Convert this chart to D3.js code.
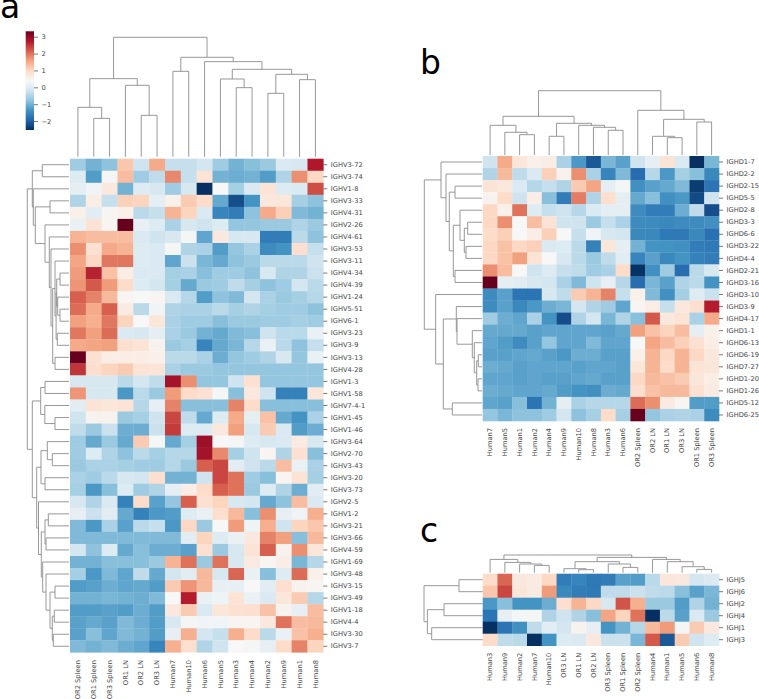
<!DOCTYPE html>
<html><head><meta charset="utf-8">
<script src="https://cdn.jsdelivr.net/npm/d3@7"></script>
<style>
html,body{margin:0;padding:0;background:#fff}
svg{display:block}
text{font-family:"DejaVu Sans",sans-serif}
</style></head><body>
<svg id="chart" width="759" height="699"></svg>
<script>
// ---------- colour scale ----------
const rdbuStops = ["#053061","#2166ac","#4393c3","#92c5de","#d1e5f0","#f7f7f7","#fddbc7","#f4a582","#d6604d","#b2182b","#67001f"];
const vMin = -2.53, vMax = 3.32;
const colorbarTicks = [-2,-1,0,1,2,3];

// ---------- panel a ----------
const colsA = ["OR2 Spleen","OR1 Spleen","OR3 Spleen","OR1 LN","OR2 LN","OR3 LN","Human7","Human10","Human6","Human5","Human3","Human4","Human2","Human9","Human1","Human8"];
const rowsA = ["IGHV3-72","IGHV3-74","IGHV1-8","IGHV3-33","IGHV4-31","IGHV2-26","IGHV4-61","IGHV3-53","IGHV3-11","IGHV4-34","IGHV4-39","IGHV1-24","IGHV5-51","IGHV6-1","IGHV3-23","IGHV3-9","IGHV3-13","IGHV4-28","IGHV1-3","IGHV1-58","IGHV7-4-1","IGHV1-45","IGHV1-46","IGHV3-64","IGHV2-70","IGHV3-43","IGHV3-20","IGHV3-73","IGHV2-5","IGHV1-2","IGHV3-21","IGHV3-66","IGHV4-59","IGHV1-69","IGHV3-48","IGHV3-15","IGHV3-49","IGHV1-18","IGHV4-4","IGHV3-30","IGHV3-7"];
const valuesA = [
[-.65,-1,-.8,1.2,-.2,1.5,-.3,-.3,-.15,-.65,-1,-.85,-.7,-.05,-.1,2.75],
[0,-1.25,.35,1.3,-.65,-.35,1.8,-.3,.8,-1,-1.05,-1,-1.25,-.5,1.75,1],
[.1,.3,.7,-1,0,-.1,-.65,-.1,-2.53,.4,-.6,-.05,.8,0,-.05,2.3],
[-.5,.6,-.3,1.1,1.05,.1,.55,1.15,.95,-1.1,-2.2,-1.35,.7,.75,-.6,-.8],
[.55,.05,.45,.55,-.4,-.3,1.4,1.05,-.05,-1.55,-1.65,-.8,1.5,1.1,-.9,-1],
[.2,.8,.45,3.32,.15,0,-.55,-.1,-.2,0,-.75,-.75,-.7,-.7,-.5,-.7],
[1.4,1.3,1.3,1.3,-.05,-.2,-.1,.35,-1.15,.7,-.1,-.1,-1.65,-1.65,-.4,-.8],
[1.75,.85,1.5,1.4,0,-.05,.35,-.5,-.55,-1.25,-.75,-.55,-1.45,-1.35,.9,-.3],
[1.55,1,1.95,1.95,0,-.05,-1.15,-.25,-.95,-1.1,-.8,-.7,-.4,-.4,-.4,-.2],
[1.65,2.65,1.25,.6,-.05,-.05,-.6,-.55,-.85,-.65,-.65,-.8,-.1,-.5,-.5,-.25],
[1.7,2.2,1.65,.95,0,-.15,-.6,-1.1,-.7,-.65,-.35,-.6,-.8,-.65,-.15,-.4],
[2.15,1.85,1.35,.45,.4,.45,-.05,-.45,-1.25,-.8,-.9,-.15,-.55,-.7,-.6,-.45],
[2.05,1.5,2.15,.65,-.4,.3,-.5,-.55,-.55,-.4,-.6,-.5,-.6,-.65,-.65,-.8],
[1.6,1.45,1.95,1.05,.4,.75,-.55,-.65,-.65,-.85,-.7,-.7,-.65,-.65,-.6,-.65],
[1.95,1.6,2.05,-.05,-.1,.1,-.55,-.7,-1,-1.1,-.9,-.85,-.2,-.4,-.4,.2],
[1.5,1.55,1.6,.9,.8,.5,-.7,-.6,-1.55,-1.1,-.95,-.45,.2,-.4,-.8,-.3],
[3.32,.85,.6,.6,.6,.55,-.4,-.4,-.55,-1.05,-.75,-.65,-.5,-.1,-.75,.2],
[2.5,.9,1.05,1.15,.8,.8,-.55,-.7,-.7,-.75,-.75,-.75,-.75,-.75,-.75,-.75],
[-.1,-.1,-.1,-.4,-.15,-.35,2.85,1.75,-.75,-.75,-.2,.85,-.75,-.75,-.75,-.75],
[1.7,-.1,-.1,-1.3,-.4,-.7,1.65,.95,.85,.35,-.85,.7,-.2,-1.6,-1.6,.75],
[.05,.8,.75,.8,-.45,.15,1.85,-.85,-.85,-.85,1.85,.95,-.85,-.85,-.85,-.85],
[-.2,.5,.5,-.7,-.6,-.2,2.35,-.35,-1.1,0,1.5,.1,1.25,-1.1,-1.35,-.55],
[-.35,-.7,-.25,-1.05,-1.05,-.25,2.45,0,0,.7,1.6,-.1,1.15,-.05,-1.25,-1.05],
[-.65,-1.1,-.7,-1.1,1.15,.35,-1.1,-.6,2.9,.4,.35,0,-.1,-.05,.65,-.1],
[-.65,0,-.5,-.8,-.4,-.6,-.45,-.45,2.85,1.8,-.6,-.2,.45,-.5,.85,-.85],
[-.7,-.55,-.55,-.6,-.65,-.65,-.45,-.7,2.15,2.35,.05,-.2,-.4,1.3,.2,-.55],
[-.55,-.65,-.4,-.1,-.15,.9,-1,-1,-.2,2.35,2,-.65,-.85,.45,.8,-.6],
[-.6,-1.3,-.85,0,-.65,-.5,.1,.6,.95,2.15,2,-.7,0,-.5,-1.05,.05],
[-.1,-.5,-.05,-1.6,.95,-1.2,-.75,2.15,.85,1.05,-.1,-.15,-1.1,-.8,1.3,-.05],
[.15,-.25,.05,-1.1,-1.6,-1.3,-1.25,0,.2,.9,1.35,-.85,1.75,.15,.25,1.45],
[-.9,-1.3,-.55,-1.2,-.4,-.3,-1.3,1,-.7,.4,1.65,.25,1.45,-.2,1.05,1.2],
[-.9,-.9,-.9,-.9,-.9,-.9,-.9,.05,1.05,0,.2,.7,1.85,1.6,-.85,1.35],
[-.15,-.8,0,-1.1,-.85,-1.05,-1.05,-1.2,.85,-.7,-.1,.8,2.15,.5,1.75,.75],
[-1,-1,-.85,-.85,-.85,-.7,1.4,2,-.7,2,-.1,.65,.45,.6,-.95,-.45],
[-.6,-1.3,-.9,-1.15,-.35,-1.1,-.15,.05,1.35,-.1,2.1,.2,-.85,0,2.05,.55],
[-1.25,-1.2,-1.05,-1.15,-1.1,-1.25,1.15,1.7,1.35,.15,.15,.4,.05,.9,.5,.45],
[-1,-1,-.95,-1,-1.05,-.9,.4,2.7,.2,.25,.8,.2,-.05,.75,1.15,-.45],
[-1.25,-1.25,-1.2,-1.25,-1.05,-1.25,.7,1.15,-.05,.75,.85,.9,1.25,.5,.15,1.3],
[-1.2,-1.1,-1.2,-.9,-1.05,-1.25,-.1,.35,.3,.3,.45,.45,.7,2,1.3,1.35],
[-1.2,-.85,-1.15,-.9,-1,-1.25,.15,1.45,-.15,-.3,1.45,.95,-.4,.2,1.25,1.45],
[-.9,-1,-.9,-1.05,-1.15,-1.55,1.45,.9,-.5,-.2,.4,.35,.15,.95,1.85,1.05]
];
// dendrogram nodes: [left, right, height]; a bare number is a leaf index
const colTreeA = [
  [[0,[1,2,115],148],[3,[4,5,124],214],234],
  [[6,7,256],[8,[[9,[10,11,207],233],[[12,13,190],[14,15,231],247],262],285],298],
  358];
const rowTreeA = [
  [[0,1,26.7],
   [2,[[3,4,19],[5,[6,[7,[[8,[[[9,10,9],[11,[12,13,9],11.3],12.3],[14,15,11.7],12.9],14],[16,17,14],16.3],18],19.7],24],33.7],35.7],
   36.7],
  [[[18,19,24],[20,[21,22,14],24.2],28.3],
   [[[23,[24,25,16.7],21.7],[26,27,24],28],
    [28,[[[29,30,20.7],[31,32,23],24],[33,[34,[[35,36,14],[[37,38,14.7],[39,40,15.7],16.7],19],23],26.3],27.7],30.5],
    32.3],
   36.7],
  41.7];

// ---------- panel b ----------
const colsB = ["Human7","Human5","Human1","Human2","Human4","Human9","Human10","Human8","Human3","Human6","OR2 Spleen","OR2 LN","OR1 LN","OR3 LN","OR1 Spleen","OR3 Spleen"];
const rowsB = ["IGHD1-7","IGHD2-2","IGHD2-15","IGHD5-5","IGHD2-8","IGHD3-3","IGHD6-6","IGHD3-22","IGHD4-4","IGHD2-21","IGHD3-16","IGHD3-10","IGHD3-9","IGHD4-17","IGHD1-1","IGHD6-13","IGHD6-19","IGHD7-27","IGHD1-20","IGHD1-26","IGHD5-12","IGHD6-25"];
const valuesB = [
[-.2,1.5,.75,.55,.6,-.55,-1.3,-2.1,-.95,-1.2,-.2,.15,.8,-.05,-2.53,-.95],
[-.5,1.35,-.35,-.05,1.1,.5,1.75,-.55,-1.55,-.9,-1.85,-.45,-1.3,-.6,-.85,-1.5],
[.8,.7,-.05,-.45,-.3,-.5,1.15,1.55,.1,.35,-1.4,-1.2,-1.1,-.9,-2.4,-1.75],
[.5,.95,-.2,.6,-.85,-1.65,1.9,-.5,.9,.1,-1.1,-.85,-1.4,-1.3,-2.25,-.2],
[1,.55,2,0,-.3,-.2,-.45,-.05,.1,.1,-1.45,-1.65,-1.65,-1.05,-.35,-2.2],
[1,1.75,.4,1.3,.8,-.2,-.2,-.7,-.3,-.55,-1.45,-1.45,-1.5,-1.45,-1.45,-1.4],
[.95,1.1,.4,.6,1.1,.4,-.3,.3,-.1,-.15,-1.5,-1.5,-1.7,-1.7,-1.5,-1.8],
[1,1.25,1,1.1,-.05,0,-.4,-1.6,.75,.1,-1,-1.35,-1.35,-1.4,-1.65,-1.7],
[1,1.25,1.6,.8,.4,-.1,-.4,-.7,-.35,.05,-1.55,-1.2,-1.5,-1.35,-1.6,-1.65],
[1.75,1.3,.4,-.2,0,-.3,-.35,-.65,-.55,.95,-2.5,-1.4,-.65,-1.85,-.4,-.1],
[3.32,.1,.05,-.1,-.15,-.55,-.9,-.2,.15,-.45,-1.85,-.95,-1.2,-.5,-.4,-1.35],
[-1.45,-1.2,-1.75,-1.75,-.1,-.35,1.15,1.4,1.85,-.3,.55,-.9,-1.4,-.6,0,-.25],
[-1.45,-1.2,-1.5,-1.3,-1.05,-.95,-.15,-.5,-.65,-1.15,.45,.6,-.3,.7,.9,2.7],
[-.65,-1.05,-1.15,-.55,-1.35,-2.2,-.5,-.15,-.95,-.5,-.85,2.2,.7,.8,-.55,1.5],
[-1.1,-1.1,-1.1,-1.2,-1.15,-1.15,-1.15,-1.15,-1.2,-1.1,1.6,1.25,1.05,1.3,.1,.55],
[-1.15,-1.25,-1.45,-1.2,-.75,-1.15,-1.15,-.9,-1.15,-1.15,.4,1.55,1.3,1.1,.85,.6],
[-1.2,-1.2,-1.15,-1.1,-1.2,-1.3,-1.05,-1.05,-1.2,-1.2,.55,1.4,1,1.4,1,.7],
[-1.05,-1.1,-1.2,-1.15,-1.15,-1.15,-1.2,-1.15,-1.15,-1.2,.75,1.4,.95,1.4,.8,.75],
[-1.15,-1.15,-1.2,-1.15,-1.2,-1.2,-1.15,-1.1,-1.2,-1.2,1,1.35,1.25,1.15,.75,.6],
[-1.05,-1.1,-1.15,-1.15,-1.1,-1.25,-1.35,-1.4,-1.05,-1.1,.9,1.25,1.35,1.35,.85,.65],
[-1.15,-1.2,-.85,-1.75,-1,.1,-.55,-.45,-.45,-.45,2.05,1.75,.65,.45,-1.25,-1.25],
[-.75,-.95,-.8,-.8,-.65,-.15,-.8,-.6,.95,-.6,3.32,-.75,-.55,-.5,-.55,-1.45]
];
const colTreeB = [
  [[0,[1,[2,3,20.3],22.7],29.7],[[4,5,18.7],[6,[7,[8,9,24.7],27.7],29.7],31.7],38.7],
  [10,[[11,[12,13,17.3],18.7],[14,15,33],35.7],44.7],
  64.3];
const rowTreeB = [
  [0,[1,[[2,3,27],[[4,[[5,6,14.3],[7,8,16],17.7],22],[9,10,27],28.7],32.7],36],41],
  [11,[[12,[13,[14,[15,[[16,17,3.7],[18,19,4],5.3],7.7],9.7],25],25.7],[20,21,29.7],38.7],46.3],
  57.7];

// ---------- panel c ----------
const colsC = ["Human3","Human9","Human2","Human7","Human10","OR3 LN","OR1 LN","OR2 LN","OR3 Spleen","OR1 Spleen","OR2 Spleen","Human4","Human1","Human5","Human6","Human8"];
const rowsC = ["IGHJ5","IGHJ6","IGHJ2","IGHJ4","IGHJ1","IGHJ3"];
const valuesC = [
[.95,2.1,.7,.65,1,-1.65,-1.55,-1.7,-1.65,-1.2,-1.25,-.4,.75,.7,-.15,-.05],
[1.2,2.35,.75,.65,1.65,-1.5,-1.65,-1.7,-.35,-.35,-.25,-.35,-.4,-.85,-1.2,-.95],
[-1.3,-.85,-1.35,-1.35,-1.05,.9,1.4,1,-.1,2.25,1.45,-.7,-.7,-1.25,-.5,-1],
[-1.75,.15,.35,.35,-.5,-.2,-.5,-.85,1.55,1.05,2,-2.53,-.4,-1.2,-.05,-.7],
[-2.53,-1.75,-1.4,-.35,.05,-.15,.5,.15,-1.35,-1,-.45,1.35,1.65,.35,1.15,.7],
[.95,-.35,-.4,-2.53,-1.35,0,-.05,.7,-.25,-.25,-.95,2.2,-2.1,1.15,-.2,0]
];
const colTreeC = [
  [0,[1,[2,[3,4,7.3],8.7],10.3],13.3],
  [[[5,[6,7,3],4],[8,[9,10,5.3],8.7],11],[11,[12,[13,[14,15,3.3],6],11],13.3],15.3],
  17.7];
const rowTreeC = [[0,1,23.7],[[2,3,38.7],[4,5,51],55.3],58.7];

// ---------- panel layout ----------
const panels = [
  {cols:colsA,rows:rowsA,values:valuesA,colTree:colTreeA,rowTree:rowTreeA,
   x:[70,323.3],y:[158.7,652.3],colBase:156.7,colTop:37.3,rowBase:69,rowTop:27.3,labelGap:7.8},
  {cols:colsB,rows:rowsB,values:valuesB,colTree:colTreeB,rowTree:rowTreeB,
   x:[482.7,719],y:[156,421],colBase:155,colTop:90.7,rowBase:482,rowTop:424.3,labelGap:7},
  {cols:colsC,rows:rowsC,values:valuesC,colTree:colTreeC,rowTree:rowTreeC,
   x:[482.7,719],y:[573.7,645.7],colBase:572.7,colTop:555,rowBase:482.7,rowTop:424,labelGap:7}
];
const panelLetters = [["a",0,17.5],["b",420,74.3],["c",420,541.7]];

const svg = d3.select("#chart");
const TEXT = "#444", LINE = "#8c8c8c", FS = 6.7;
const color = d3.scaleLinear()
  .domain(rdbuStops.map((_,i)=>vMin+(vMax-vMin)*i/(rdbuStops.length-1)))
  .range(rdbuStops).interpolate(d3.interpolateRgb).clamp(true);

function dendro(g, tree, heightScale, leafScale, leaves, horizontal){
  const segs=[];
  function walk(n){
    if(typeof n==="number") return {c:leafScale(leaves[n])+leafScale.bandwidth()/2,h:0};
    const a=walk(n[0]), b=walk(n[1]), h=n[2];
    segs.push([a,b,h]);
    return {c:(a.c+b.c)/2,h};
  }
  walk(tree);
  const path=([a,b,h])=>horizontal
    ? `M${heightScale(a.h)},${a.c}H${heightScale(h)}V${b.c}H${heightScale(b.h)}`
    : `M${a.c},${heightScale(a.h)}V${heightScale(h)}H${b.c}V${heightScale(b.h)}`;
  g.selectAll("path").data(segs).join("path")
    .attr("d",path).attr("fill","none").attr("stroke",LINE).attr("stroke-width",0.9);
}

panels.forEach(p=>{
  const x=d3.scaleBand().domain(p.cols).range(p.x);
  const y=d3.scaleBand().domain(p.rows).range(p.y);
  const g=svg.append("g");
  const cells=p.values.flatMap((r,i)=>r.map((v,j)=>({r:p.rows[i],c:p.cols[j],v})));
  g.append("g").selectAll("rect").data(cells).join("rect")
    .attr("x",d=>x(d.c)).attr("y",d=>y(d.r))
    .attr("width",x.bandwidth()+0.3).attr("height",y.bandwidth()+0.3)
    .attr("fill",d=>color(d.v));
  const maxCol=p.colTree[2], maxRow=p.rowTree[2];
  dendro(g.append("g"),p.colTree,d3.scaleLinear([0,maxCol],[p.colBase,p.colTop]),x,p.cols,false);
  dendro(g.append("g"),p.rowTree,d3.scaleLinear([0,maxRow],[p.rowBase,p.rowTop]),y,p.rows,true);

  const ra=g.append("g").attr("transform",`translate(${p.x[1]},0)`)
    .call(d3.axisRight(y).tickSize(4).tickPadding(3.5));
  ra.select(".domain").remove();
  ra.selectAll("line").attr("stroke","#555").attr("stroke-width",0.8);
  ra.selectAll("text").attr("font-size",FS).attr("font-family",'"DejaVu Sans",sans-serif').attr("fill",TEXT);

  const ca=g.append("g").attr("transform",`translate(0,${p.y[1]})`)
    .call(d3.axisBottom(x).tickSize(0).tickPadding(0));
  ca.select(".domain").remove();
  ca.selectAll("text")
    .attr("font-size",FS).attr("font-family",'"DejaVu Sans",sans-serif').attr("fill",TEXT)
    .attr("text-anchor","end").attr("dy","0.32em")
    .attr("transform",`translate(0,${p.labelGap}) rotate(-90)`).attr("x",0).attr("y",0);
});

// ---------- colorbar ----------
const cb={x:25.7,w:8.3,y0:31.3,y1:130};
const cbY=d3.scaleLinear([vMin,vMax],[cb.y1,cb.y0]);
const defs=svg.append("defs").append("linearGradient").attr("id","cbg")
  .attr("x1",0).attr("x2",0).attr("y1",1).attr("y2",0);
defs.selectAll("stop").data(rdbuStops).join("stop")
  .attr("offset",(_,i)=>i/(rdbuStops.length-1)).attr("stop-color",d=>d);
svg.append("rect").attr("x",cb.x).attr("y",cb.y0).attr("width",cb.w).attr("height",cb.y1-cb.y0).attr("fill","url(#cbg)");
const cbAxis=svg.append("g").attr("transform",`translate(${cb.x+cb.w},0)`)
  .call(d3.axisRight(cbY).tickValues(colorbarTicks).tickFormat(d3.format("d")).tickSize(4).tickPadding(3.5));
cbAxis.select(".domain").remove();
cbAxis.selectAll("line").attr("stroke","#555").attr("stroke-width",0.8);
cbAxis.selectAll("text").attr("font-size",FS).attr("font-family",'"DejaVu Sans",sans-serif').attr("fill",TEXT);

// ---------- panel letters ----------
svg.append("g").selectAll("text").data(panelLetters).join("text")
  .attr("x",d=>d[1]).attr("y",d=>d[2]).text(d=>d[0])
  .attr("font-family","Lato,sans-serif").attr("font-size",33).attr("fill","#000");
</script>
</body></html>
